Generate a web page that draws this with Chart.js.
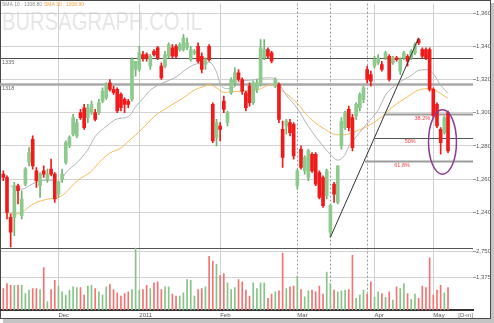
<!DOCTYPE html>
<html>
<head>
<meta charset="utf-8">
<script src="https://cdn.jsdelivr.net/npm/chart.js@4.4.0/dist/chart.umd.min.js"></script>
<style>
  html, body { margin: 0; padding: 0; background: #fff; }
  canvas { display: block; }
</style>
</head>
<body>
<canvas id="chart" width="494" height="323"></canvas>
<script>
// ===== daily candles =====
const opens = [1263,1261,1237,1237,1256,1238,1257,1270,1284,1265,
  1256,1265,1260,1266,1263,1251,1260,1270,1280,1287,
  1286,1300,1303,1297,1300,1300,1300,1307,1309,1318,
  1314,1314,1311,1308,1307,1308,1326,1326,1335,1335,
  1328,1337,1339,1328,1328,1334,1339,1340,1338,1338,
  1339,1332,1336,1340,1334,1329,1340,1305,1285,1292,
  1307,1294,1312,1318,1324,1320,1312,1316,1306,1314,
  1317,1333,1338,1336,1316,1317,1290,1292,1294,1293,
  1256,1278,1265,1261,1275,1275,1264,1261,1250,1228,
  1257,1246,1280,1291,1302,1297,1298,1303,1308,1326,
  1323,1328,1330,1329,1333,1334,1330,1333,1325,1333,
  1334,1333,1336,1344,1338,1338,1338,1314,1305,1290,
  1288,1300];
const highs = [1265,1262,1239,1258,1257,1253,1267,1279,1286,1267,
  1264,1268,1266,1272,1264,1259,1266,1283,1286,1299,
  1296,1302,1305,1305,1307,1302,1308,1315,1318,1320,
  1316,1315,1312,1309,1308,1333,1331,1340,1337,1336,
  1335,1338,1340,1330,1337,1342,1341,1341,1342,1347,
  1345,1340,1338,1342,1336,1333,1341,1306,1296,1294,
  1310,1301,1321,1327,1326,1321,1313,1318,1319,1320,
  1344,1344,1339,1337,1321,1318,1295,1296,1296,1294,
  1266,1280,1274,1278,1276,1276,1265,1262,1266,1245,
  1258,1268,1297,1301,1304,1299,1306,1312,1316,1328,
  1325,1334,1335,1331,1337,1335,1334,1334,1333,1337,
  1335,1338,1342,1345,1339,1339,1339,1315,1306,1291,
  1298,1301];
const lows = [1259,1236,1219,1226,1245,1236,1256,1268,1266,1255,
  1249,1261,1258,1262,1246,1249,1258,1269,1279,1286,
  1285,1296,1290,1294,1299,1295,1299,1306,1308,1313,
  1311,1300,1301,1300,1303,1307,1322,1325,1331,1331,
  1326,1334,1332,1320,1327,1333,1333,1333,1337,1337,
  1338,1331,1335,1330,1324,1326,1331,1282,1280,1283,
  1300,1292,1311,1316,1319,1311,1301,1304,1305,1312,
  1316,1332,1333,1330,1315,1294,1267,1287,1286,1272,
  1254,1266,1263,1259,1264,1256,1248,1243,1248,1225,
  1246,1245,1278,1290,1289,1277,1296,1301,1306,1318,
  1316,1327,1329,1325,1332,1319,1329,1331,1323,1332,
  1328,1332,1335,1341,1333,1332,1313,1297,1291,1275,
  1287,1276];
const closes = [1261,1240,1228,1256,1253,1248,1266,1276,1268,1259,
  1263,1263,1263,1263,1248,1258,1263,1282,1285,1297,
  1294,1297,1291,1303,1305,1296,1306,1313,1317,1314,
  1312,1301,1303,1305,1305,1332,1331,1336,1333,1333,
  1334,1335,1333,1321,1335,1341,1334,1334,1341,1345,
  1342,1338,1337,1331,1326,1332,1332,1283,1294,1290,
  1302,1300,1320,1324,1320,1313,1303,1306,1318,1318,
  1339,1338,1334,1331,1320,1296,1273,1295,1288,1274,
  1265,1267,1273,1277,1265,1257,1249,1244,1265,1244,
  1251,1268,1295,1300,1291,1279,1305,1311,1315,1320,
  1319,1332,1333,1326,1336,1320,1333,1332,1332,1336,
  1331,1337,1341,1342,1334,1333,1314,1298,1292,1282,
  1297,1277];
const volumes = [763,1032,942,942,942,942,495,674,763,763,
  710,1891,60,710,1211,889,584,406,674,853,
  817,817,406,889,942,763,584,406,853,996,
  710,531,352,495,584,710,2965,674,710,942,
  763,1068,1121,710,853,853,459,352,352,531,
  1247,1211,352,710,763,853,2500,2249,2070,1480,
  1569,1068,710,817,1247,1121,674,352,1068,763,
  1068,1068,226,459,584,638,2679,763,853,889,
  1426,710,316,638,674,584,889,459,1658,1032,
  674,584,638,674,710,2554,226,406,674,459,
  1121,280,584,495,280,584,137,853,763,1032,
  495,173,459,226,889,817,2428,406,674,942,
  531,817];

// ===== moving averages (sampled at candle index) =====
const smaFastIdx = [2,5,8,10,13,15,16,17,20,23,25,28,31,34,36,38,40,43,47,50,53,55,56,58,59,61,63,64,68,71,73,75,77,80,83,86,89,91,93,94,95,99,102,104,108,111,113,115,117,119,121];
const smaFastVal = [1255.9,1253.9,1257.2,1258.8,1259.3,1257.8,1259.9,1263.8,1269.8,1277.8,1285.7,1291.7,1296.3,1297.6,1303.6,1308.6,1313.6,1317.5,1321.5,1326.5,1329.5,1329.5,1330.5,1324.5,1317.5,1314.5,1315.6,1318.5,1319.7,1320.9,1321,1317.3,1310.6,1302.6,1291.7,1282.7,1274.8,1271.4,1274.8,1279.7,1282.7,1293.6,1301.6,1310.6,1318.5,1322.5,1325.5,1325.9,1323.5,1316.6,1311.6];
const smaSlowIdx = [1,3,5,8,12,15,17,20,24,26,29,32,34,38,41,45,49,52,55,56,58,60,62,65,69,73,76,80,83,87,91,93,95,99,103,106,110,113,116,119,121];
const smaSlowVal = [1239.9,1238.9,1239.9,1244.9,1247.9,1248.9,1251.9,1258.8,1264.8,1269.8,1275.7,1278.7,1282.7,1290.7,1297.6,1303.6,1309,1313.6,1316.2,1316.9,1315,1312.2,1312.6,1313,1313.6,1317,1313,1305.6,1297.6,1290.7,1286.7,1286.7,1288.1,1291.7,1297.6,1303.6,1309.6,1313.6,1314.5,1311.6,1308.6];
const legendText = ['SMA 10 : 1308.80', 'SMA 30 : 1308.90'];

// ===== axis ticks =====
const monthIdx = [15, 37, 59, 80, 101, 117];
const monthText = ['Dec', '2011', 'Feb', 'Mar', 'Apr', 'May'];
const eventIdx = [80, 89, 99];
const priceTicks = [1240, 1260, 1280, 1300, 1320, 1340, 1360];
const volTicks = [1375, 2750];

// ===== drawings =====
const trendFrom = 89, trendTo = 113;
const levels = [1333, 1317.4];
const levelText = ['1335', '1318'];
const fibLevels = [1299, 1285, 1270.8];
const fibFrom = [103.9, 101.1, 98.4];
const fibText = ['38.2%', '50%', '61.8%'];
const fibTextAt = [114, 110.7, 108.5];
const circle = { x: 119.5, y: 1282.4, rx: 3.8, ry: 19.4 };

const PRICE_MIN = 1218.8, PRICE_MAX = 1365.7;
const VOL_MIN = -400, VOL_MAX = 2983;

const RED = '#f01a1a';
const GREEN = '#8ec98e';
const VOL_RED = '#f47272';
const VOL_GREEN = '#86c386';
const FONT = "'Liberation Sans', Arial, sans-serif";

const isUp = i => closes[i] >= opens[i];

const overlay = {
  id: 'overlay',
  beforeDraw(chart) {
    const c = chart.ctx;
    c.save();
    c.fillStyle = '#fff';
    c.fillRect(0, 0, chart.width, chart.height);
    c.fillStyle = '#c4c4c4';
    c.fillRect(3, 3, chart.width - 3, chart.height - 3);
    c.fillStyle = '#fff';
    c.fillRect(0, 0, 491, 319);
    c.strokeStyle = '#4a4a4a';
    c.lineWidth = 1;
    c.strokeRect(0.5, 0.5, 490, 318);
    // watermark
    c.font = '25px ' + FONT;
    c.fillStyle = '#e6e6e6';
    c.textBaseline = 'alphabetic';
    const w = c.measureText('BURSAGRAPH.CO.IL').width;
    c.translate(2, 30);
    c.scale(200 / w, 1);
    c.fillText('BURSAGRAPH.CO.IL', 0, 0);
    c.restore();
  },
  beforeDatasetsDraw(chart) {
    const { ctx: c, chartArea: a, scales: { x, y, yv } } = chart;
    c.save();
    const hline = (py, x0, x1) => { c.beginPath(); c.moveTo(x0, py); c.lineTo(x1, py); c.stroke(); };
    // event lines
    c.strokeStyle = '#999';
    c.lineWidth = 1;
    c.setLineDash([2, 2]);
    eventIdx.forEach(i => {
      const px = Math.round(x.getPixelForValue(i)) + 0.5;
      c.beginPath(); c.moveTo(px, a.top); c.lineTo(px, a.bottom); c.stroke();
    });
    c.setLineDash([]);
    // panel separator
    c.strokeStyle = '#555';
    hline(Math.round(yv.top) + 0.5, 0, a.right);
    // support / resistance
    levels.forEach((v, k) => {
      c.strokeStyle = k ? '#a8a8a8' : '#505050';
      c.lineWidth = k ? 2.5 : 1;
      hline(Math.round(y.getPixelForValue(v)) + 0.5, 0, a.right);
    });
    // fibonacci
    fibLevels.forEach((v, k) => {
      c.strokeStyle = k === 1 ? '#555' : '#9c9c9c';
      c.lineWidth = k === 1 ? 1 : 2;
      hline(Math.round(y.getPixelForValue(v)) + 0.5, x.getPixelForValue(fibFrom[k]), a.right);
    });
    c.restore();
  },
  afterDatasetsDraw(chart) {
    const { ctx: c, scales: { x, y } } = chart;
    c.save();
    // circle
    const cx = x.getPixelForValue(circle.x), cy = y.getPixelForValue(circle.y);
    const rx = Math.abs(x.getPixelForValue(circle.x + circle.rx) - cx);
    const ry = Math.abs(y.getPixelForValue(circle.y + circle.ry) - cy);
    c.strokeStyle = '#8a3b95';
    c.lineWidth = 1.5;
    c.beginPath(); c.ellipse(cx, cy, rx, ry, 0, 0, Math.PI * 2); c.stroke();
    // fib labels
    c.font = '5.5px ' + FONT;
    c.fillStyle = '#f03c3c';
    c.textAlign = 'center';
    c.textBaseline = 'top';
    fibLevels.forEach((v, k) => c.fillText(fibText[k], x.getPixelForValue(fibTextAt[k]), y.getPixelForValue(v) + 1.5));
    // level labels
    c.fillStyle = '#666';
    c.textAlign = 'left';
    levels.forEach((v, k) => c.fillText(levelText[k], 2, y.getPixelForValue(v) + 1.5));
    c.restore();
  },
  afterDraw(chart) {
    const { ctx: c, chartArea: a } = chart;
    c.save();
    c.font = '5px ' + FONT;
    c.textBaseline = 'middle';
    c.fillStyle = '#8a8a8a';
    c.fillText(legendText[0], 2, 5);
    c.fillStyle = '#eea040';
    c.fillText(legendText[1], 44, 5);
    c.font = '6px ' + FONT;
    c.fillStyle = '#666';
    c.textAlign = 'right';
    c.fillText('[D-m]', a.right, a.bottom + 5);
    c.restore();
  }
};

Chart.defaults.font.family = FONT;

new Chart(document.getElementById('chart'), {
  type: 'bar',
  data: {
    datasets: [
      {
        type: 'line',
        data: smaFastIdx.map((v, k) => ({ x: v, y: smaFastVal[k] })),
        borderColor: '#b4b4b4', borderWidth: 1, pointRadius: 0,
        cubicInterpolationMode: 'monotone', yAxisID: 'y', order: 3,
      },
      {
        type: 'line',
        data: smaSlowIdx.map((v, k) => ({ x: v, y: smaSlowVal[k] })),
        borderColor: '#f4bc5e', borderWidth: 1, pointRadius: 0,
        cubicInterpolationMode: 'monotone', yAxisID: 'y', order: 3,
      },
      {
        label: 'wick',
        data: opens.map((_, i) => ({ x: i, y: [lows[i], highs[i]] })),
        backgroundColor: ctx => isUp(ctx.dataIndex) ? '#6fb46f' : RED,
        barThickness: 1, grouped: false, yAxisID: 'y', order: 2,
      },
      {
        label: 'body',
        data: opens.map((_, i) => ({ x: i, y: [opens[i], closes[i]] })),
        backgroundColor: ctx => isUp(ctx.dataIndex) ? GREEN : RED,
        barThickness: 3, minBarLength: 1, grouped: false, yAxisID: 'y', order: 1,
      },
      {
        type: 'line',
        data: [{ x: trendFrom, y: lows[trendFrom] }, { x: trendTo, y: highs[trendTo] }],
        borderColor: '#333', borderWidth: 1, pointRadius: 0, yAxisID: 'y', order: 0,
      },
      {
        label: 'volume',
        data: volumes.map((v, i) => ({ x: i, y: v })),
        backgroundColor: ctx => isUp(ctx.dataIndex) ? VOL_GREEN : VOL_RED,
        barThickness: 1, grouped: false, base: VOL_MIN, yAxisID: 'yv', order: 1,
      },
    ]
  },
  options: {
    responsive: false,
    animation: false,
    devicePixelRatio: 1,
    layout: { padding: { left: 1, top: 1, right: 0, bottom: 0 } },
    plugins: { legend: { display: false }, tooltip: { enabled: false } },
    events: [],
    scales: {
      x: {
        type: 'linear', min: -0.63, max: 127.8, offset: false,
        afterBuildTicks: s => { s.ticks = monthIdx.map(v => ({ value: v })); },
        afterFit: s => { s.height = 13; },
        grid: {
          offset: false, drawTicks: false,
          color: ctx => ctx.tick && eventIdx.includes(ctx.tick.value) ? 'rgba(0,0,0,0)' : '#cfcfcf',
        },
        border: { color: '#333', width: 2 },
        ticks: {
          autoSkip: false, maxRotation: 0, align: 'start', padding: 2,
          font: { size: 6 }, color: '#555',
          callback: v => monthText[monthIdx.indexOf(v)],
        },
      },
      y: {
        position: 'right', stack: 'panels', stackWeight: 246,
        min: PRICE_MIN, max: PRICE_MAX,
        afterBuildTicks: s => { s.ticks = priceTicks.map(v => ({ value: v })); },
        afterFit: s => { s.width = 21; },
        grid: { color: '#d2d2d2', tickLength: 3, tickColor: '#999' },
        border: { display: false },
        ticks: { font: { size: 6 }, color: '#555', padding: 0, callback: v => v.toLocaleString('en-US') },
      },
      yv: {
        position: 'right', stack: 'panels', stackWeight: 63,
        min: VOL_MIN, max: VOL_MAX,
        afterBuildTicks: s => { s.ticks = volTicks.map(v => ({ value: v })); },
        afterFit: s => { s.width = 21; },
        grid: { color: '#d2d2d2', tickLength: 3, tickColor: '#999' },
        border: { display: false },
        ticks: { font: { size: 6 }, color: '#555', padding: 0, callback: v => v.toLocaleString('en-US') },
      },
    },
  },
  plugins: [overlay],
});
</script>
</body>
</html>
